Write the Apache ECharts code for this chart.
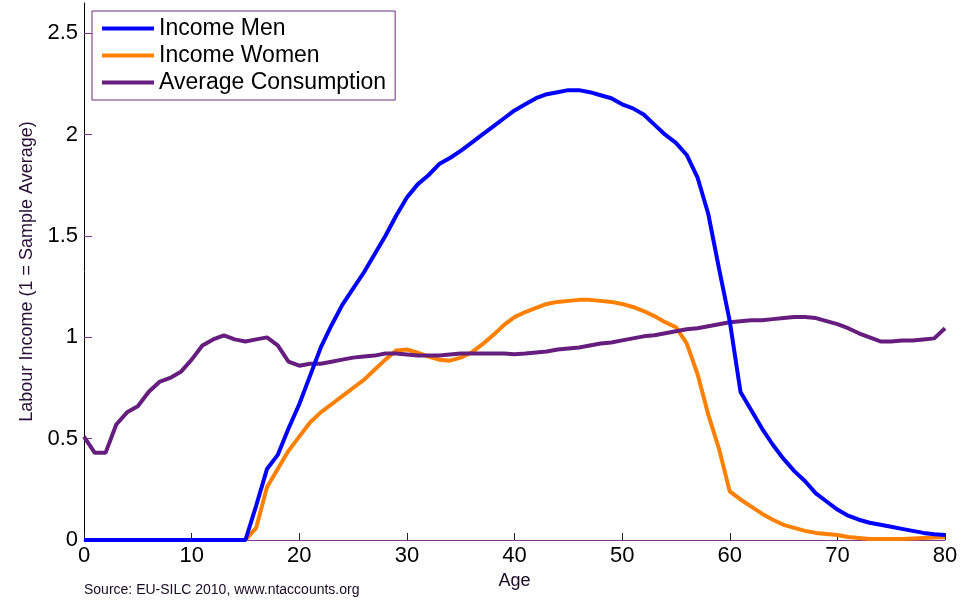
<!DOCTYPE html>
<html>
<head>
<meta charset="utf-8">
<script src="https://cdn.jsdelivr.net/npm/echarts@6/dist/echarts.min.js"></script>
<style>html,body{margin:0;padding:0;background:#fff;}#c{width:980px;height:603px;}</style>
</head>
<body>
<div id="c"></div>
<script>
var ages = [];
for (var a = 0; a <= 80; a++) ages.push(a);

var incomeMen = [0,0,0,0,0,0,0,0,0,0, 0,0,0,0,0,0,0.17,0.35,0.42,0.55,
  0.67,0.81,0.95,1.06,1.16,1.24,1.32,1.41,1.50,1.60,
  1.69,1.755,1.80,1.855,1.885,1.92,1.96,2.00,2.04,2.08,
  2.12,2.15,2.18,2.20,2.21,2.22,2.22,2.21,2.195,2.18,
  2.15,2.13,2.10,2.05,2.00,1.96,1.90,1.79,1.61,1.34,
  1.08,0.73,0.64,0.55,0.47,0.40,0.34,0.29,0.23,0.19,
  0.15,0.12,0.10,0.085,0.075,0.065,0.055,0.045,0.035,0.028,0.025];

var incomeWomen = [0,0,0,0,0,0,0,0,0,0, 0,0,0,0,0,0,0.06,0.26,0.35,0.44,
  0.51,0.58,0.63,0.67,0.71,0.75,0.79,0.84,0.89,0.935,
  0.94,0.925,0.905,0.89,0.885,0.90,0.925,0.965,1.01,1.06,
  1.10,1.125,1.145,1.165,1.175,1.18,1.185,1.185,1.18,1.175,
  1.165,1.15,1.13,1.105,1.075,1.05,0.97,0.82,0.62,0.45,
  0.24,0.20,0.165,0.13,0.10,0.075,0.06,0.045,0.035,0.03,
  0.025,0.015,0.01,0.005,0.005,0.005,0.005,0.008,0.01,0.012,0.013];

var avgConsumption = [0.51,0.43,0.43,0.57,0.63,0.66,0.73,0.78,0.80,0.83,
  0.89,0.96,0.99,1.01,0.99,0.98,0.99,1.00,0.96,0.88,
  0.86,0.87,0.87,0.88,0.89,0.90,0.905,0.91,0.92,0.92,
  0.915,0.91,0.91,0.91,0.915,0.92,0.92,0.92,0.92,0.92,
  0.917,0.92,0.925,0.93,0.94,0.945,0.95,0.96,0.97,0.975,
  0.985,0.995,1.005,1.01,1.02,1.03,1.04,1.045,1.055,1.065,
  1.075,1.08,1.085,1.085,1.09,1.095,1.10,1.10,1.095,1.08,
  1.065,1.045,1.02,1.00,0.98,0.98,0.985,0.985,0.99,0.995,1.045];

var xTicks = [0,10,20,30,40,50,60,70,80];
var yTicks = [0,0.5,1,1.5,2,2.5];

function pairs(vals){ return ages.map(function(a,i){ return [a, vals[i]]; }); }

var font = "'Liberation Sans', Arial, sans-serif";
var chart = echarts.init(document.getElementById('c'), null, {renderer:'canvas'});
chart.setOption({
  animation: false,
  backgroundColor: '#ffffff',
  grid: { left: 84, right: 35, top: 3, bottom: 63, containLabel: false },
  legend: {
    data: ['Income Men','Income Women','Average Consumption'],
    orient: 'vertical',
    left: 92, top: 11,
    padding: [6, 9, 6, 10],
    itemGap: 4,
    itemWidth: 52, itemHeight: 4,
    icon: 'rect',
    backgroundColor: '#ffffff',
    borderColor: '#6a2a7a',
    borderWidth: 1,
    textStyle: { fontFamily: font, fontSize: 23, color: '#000' }
  },
  xAxis: {
    type: 'value', min: 0, max: 80, interval: 10,
    name: 'Age', nameLocation: 'middle', nameGap: 32,
    nameTextStyle: { fontFamily: font, fontSize: 18, color: '#1a0a24' },
    axisLine: { lineStyle: { color: '#7a3a90', width: 1 } },
    axisTick: { inside: true, length: 7, lineStyle: { color: '#222' } },
    axisLabel: { fontFamily: font, fontSize: 22, color: '#000', margin: 5,
      formatter: function(v){ return xTicks.indexOf(v) >= 0 ? String(v) : ''; } },
    splitLine: { show: false }
  },
  yAxis: {
    type: 'value', min: 0, max: 2.65, interval: 0.5,
    name: 'Labour Income (1 = Sample Average)', nameLocation: 'middle', nameGap: 46,
    nameTextStyle: { fontFamily: font, fontSize: 18, color: '#2a0f38' },
    axisLine: { show: true, lineStyle: { color: '#000', width: 1 } },
    axisTick: { show: true, inside: true, length: 8, lineStyle: { color: '#7a3a90' } },
    axisLabel: { fontFamily: font, fontSize: 22, color: '#000', margin: 6, showMaxLabel: false,
      formatter: function(v){ return yTicks.indexOf(v) >= 0 ? String(v) : ''; } },
    splitLine: { show: false }
  },
  graphic: [{
    type: 'text', left: 84, top: 583,
    style: { text: 'Source: EU-SILC 2010, www.ntaccounts.org', fontFamily: font, fontSize: 14, fill: '#1a0a24' }
  }],
  series: [
    { name: 'Income Women', type: 'line', data: pairs(incomeWomen), showSymbol: false,
      lineStyle: { color: '#ff8000', width: 4 }, itemStyle: { color: '#ff8000' } },
    { name: 'Average Consumption', type: 'line', data: pairs(avgConsumption), showSymbol: false,
      lineStyle: { color: '#661e7e', width: 4 }, itemStyle: { color: '#661e7e' } },
    { name: 'Income Men', type: 'line', data: pairs(incomeMen), showSymbol: false,
      lineStyle: { color: '#0000ff', width: 4 }, itemStyle: { color: '#0000ff' } }
  ]
});
</script>
</body>
</html>
